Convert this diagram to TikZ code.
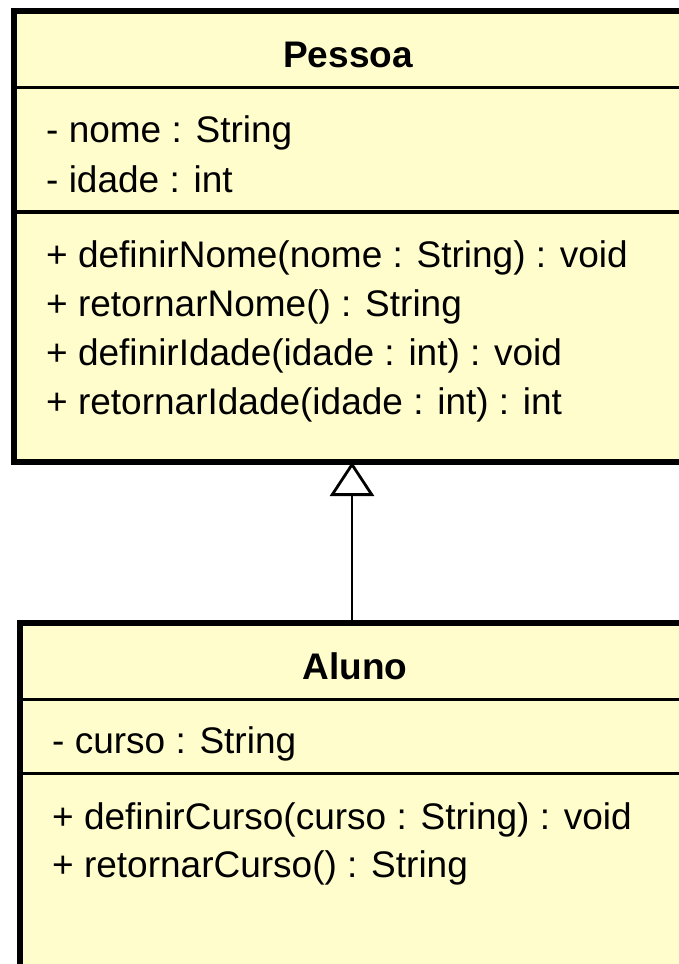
\documentclass[tikz,border=0pt]{standalone}
\usepackage{fontspec}
\setmainfont{Liberation Sans}
\usetikzlibrary{arrows.meta}
\definecolor{umlfill}{RGB}{255,253,204}
\begin{document}
\begin{tikzpicture}[x=1pt,y=-1pt,
  classbox/.style={draw=black, fill=umlfill, line width=6pt, outer sep=0pt, inner sep=0pt, anchor=north west},
  sepline/.style={line width=3.5pt},
  member/.style={anchor=base west, inner sep=0pt, font=\fontsize{37}{40}\selectfont},
  classtitle/.style={anchor=base, inner sep=0pt, font=\fontsize{37}{40}\selectfont\bfseries},
  inherit/.style={line width=2.8pt, -{Triangle[open, length=34pt, width=44pt, fill=white]}}]
\clip (0,0) rectangle (679,964);
\fill[white] (0,0) rectangle (679,964);
% Pessoa
\node[classbox, minimum width=676pt, minimum height=451pt] (pessoa) at (14,11) {};
\draw[sepline] (14,87.5) -- (690,87.5);
\draw[sepline] (14,212) -- (690,212);
\node[classtitle] (pessoaname) at (348,67) {Pessoa};
\node[member] (nome) at (46,142) {- nome : String};
\node[member] (idade) at (46,192) {- idade : int};
\node[member] (m1) at (46,267) {+ definirNome(nome : String) : void};
\node[member] (m2) at (46,316) {+ retornarNome() : String};
\node[member] (m3) at (46,365) {+ definirIdade(idade : int) : void};
\node[member] (m4) at (46,414) {+ retornarIdade(idade : int) : int};
% Aluno
\node[classbox, minimum width=673pt, minimum height=500pt] (aluno) at (20,623) {};
\draw[sepline] (20,699.5) -- (693,699.5);
\draw[sepline] (20,773.5) -- (693,773.5);
\node[classtitle] (alunoname) at (355,679) {Aluno};
\node[member] (curso) at (52,753) {- curso : String};
\node[member] (m5) at (52,829) {+ definirCurso(curso : String) : void};
\node[member] (m6) at (52,877) {+ retornarCurso() : String};
% generalization
\draw[inherit] (aluno.north -| pessoa.south) -- (pessoa.south);
\end{tikzpicture}
\end{document}
